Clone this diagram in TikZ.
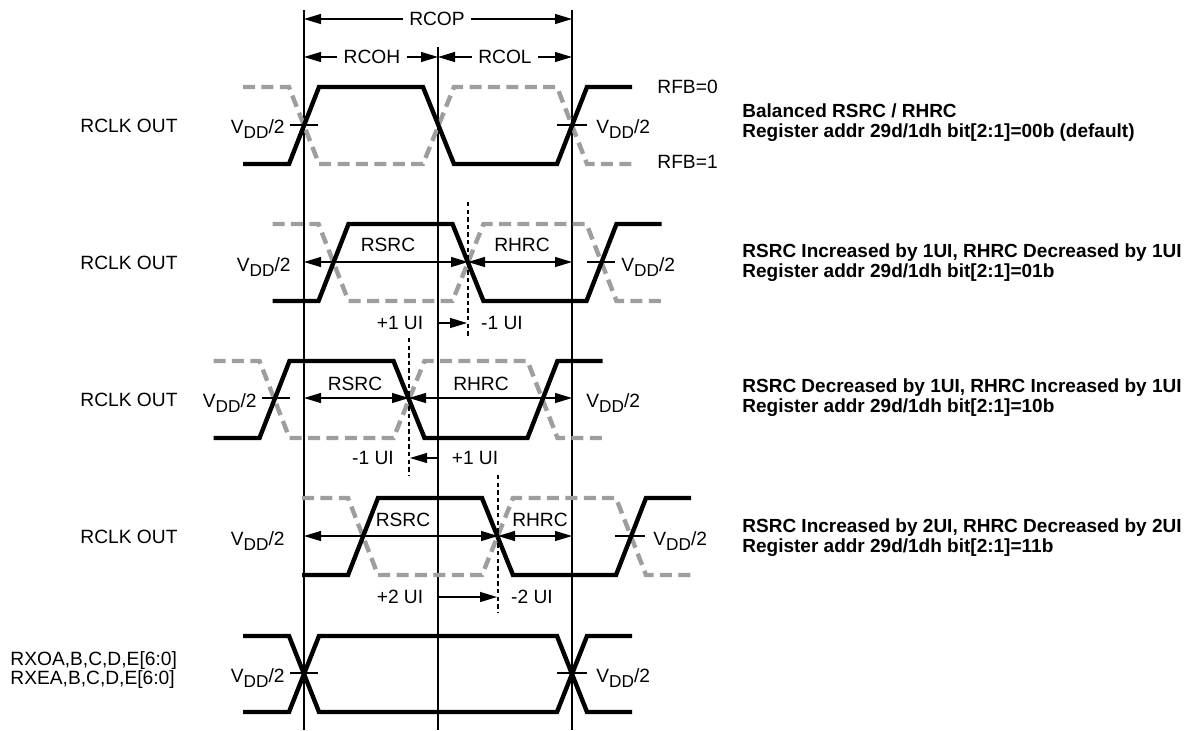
\documentclass[tikz,border=0pt]{standalone}
\usepackage{fontspec}
\setmainfont{Liberation Sans}
\usetikzlibrary{arrows.meta}

\definecolor{siggray}{RGB}{158,158,158}
\newcommand{\vddhalf}{V\raisebox{-0.5ex}{\fontsize{8.6}{8}\selectfont DD}/2}

\begin{document}
\begin{tikzpicture}[x=0.5pt, y=-0.5pt,
  >={Triangle[length=8.5pt,width=5pt]},
  sig/.style={line width=2.2pt, black},
  inv/.style={line width=2.2pt, siggray, dash pattern=on 6pt off 3.2pt},
  thinline/.style={line width=0.6pt},
  ruler/.style={line width=0.6pt, dash pattern=on 2.2pt off 1.6pt},
  lbl/.style={font=\fontsize{9.6}{11}\selectfont, inner sep=1pt},
  note/.style={font=\bfseries\fontsize{9.5}{10}\selectfont, align=left, anchor=west, inner sep=0pt}]
  \useasboundingbox (0,0) rectangle (1200,730);

  % Period lines
  \coordinate (p1top) at (304,10);  \coordinate (p1bot) at (304,730);
  \coordinate (p2top) at (438,47);  \coordinate (p2bot) at (438,730);
  \coordinate (p3top) at (572,10);  \coordinate (p3bot) at (572,730);
  \draw[thinline] (p1top) -- (p1bot);
  \draw[thinline] (p2top) -- (p2bot);
  \draw[thinline] (p3top) -- (p3bot);

  % Period / high / low dimensions
  \node[lbl, inner sep=3pt] (rcop) at (437,19) {RCOP};
  \draw[thinline,<-] (p1top |- rcop) -- (rcop.west);
  \draw[thinline,->] (rcop.east) -- (p3top |- rcop);
  \node[lbl, inner sep=3pt] (rcoh) at (372,57) {RCOH};
  \draw[thinline,<-] (p1top |- rcoh) -- (rcoh.west);
  \draw[thinline,->] (rcoh.east) -- (p2top |- rcoh);
  \node[lbl, inner sep=3pt] (rcol) at (505,57) {RCOL};
  \draw[thinline,<-] (p2top |- rcol) -- (rcol.west);
  \draw[thinline,->] (rcol.east) -- (p3top |- rcol);

  % RCLK OUT waveforms (shift in pixels, 1 UI = 29.5)
  \foreach \row/\s in {1/0, 2/29.5, 3/-29.5, 4/59} {
    \pgfmathsetmacro\yh{87+137*(\row-1)}
    \pgfmathsetmacro\yl{164+137*(\row-1)}
    \draw[inv] (243+\s,\yh) -- (289+\s,\yh) -- (319+\s,\yl) -- (423+\s,\yl)
      -- (454+\s,\yh) -- (557+\s,\yh) -- (587+\s,\yl) -- (632+\s,\yl);
    \draw[sig] (243+\s,\yl) -- (289+\s,\yl) -- (319+\s,\yh) -- (423+\s,\yh)
      -- (454+\s,\yl) -- (557+\s,\yl) -- (587+\s,\yh) -- (632+\s,\yh);
    \node[lbl] (clk\row) at (129,125.5+137*\row-137) {RCLK OUT};
  }

  % Data waveform
  \draw[sig] (243,636) -- (289,636) -- (319,712) -- (557,712) -- (587,636) -- (632,636);
  \draw[sig] (243,712) -- (289,712) -- (319,636) -- (557,636) -- (587,712) -- (632,712);
  \node[lbl, align=left, anchor=west, font=\fontsize{9.6}{8.2}\selectfont] (rxd) at (8,670)
    {RXOA,B,C,D,E[6:0]\\RXEA,B,C,D,E[6:0]};

  % Row 1: balanced
  \draw[thinline] (290,125) -- (318,125);
  \draw[thinline] (557,125) -- (587,125);
  \node[lbl, anchor=east] (v1l) at (287,129) {\vddhalf};
  \node[lbl, anchor=west] (v1r) at (594,129) {\vddhalf};
  \node[lbl, anchor=west] (rfb0) at (655,87) {RFB=0};
  \node[lbl, anchor=west] (rfb1) at (655,162) {RFB=1};
  \node[note] (n1) at (742,123) {Balanced RSRC / RHRC\\Register addr 29d/1dh bit[2:1]=00b (default)};

  % Row 2: +1 UI
  \coordinate (c2) at (468,262);
  \draw[ruler] (468,202) -- (468,338);
  \draw[thinline,<->] (p1top |- c2) -- (c2);
  \draw[thinline,<->] (c2) -- (p3top |- c2);
  \draw[thinline] (587,262) -- (615,262);
  \node[lbl] (rsrc2) at (388,245) {RSRC};
  \node[lbl] (rhrc2) at (522,245) {RHRC};
  \node[lbl, anchor=east] (v2l) at (293,267) {\vddhalf};
  \node[lbl, anchor=west] (v2r) at (619,267) {\vddhalf};
  \coordinate (u2) at (467,323);
  \draw[thinline,->] (p2top |- u2) -- (u2);
  \node[lbl] (u2l) at (400,323) {+1 UI};
  \node[lbl] (u2r) at (502,323) {-1 UI};
  \node[note] (n2) at (742,262.5) {RSRC Increased by 1UI, RHRC Decreased by 1UI\\Register addr 29d/1dh bit[2:1]=01b};

  % Row 3: -1 UI
  \coordinate (c3) at (409,398);
  \draw[ruler] (409,338) -- (409,475);
  \draw[thinline,<->] (p1top |- c3) -- (c3);
  \draw[thinline,<->] (c3) -- (p3top |- c3);
  \draw[thinline] (262,398) -- (290,398);
  \node[lbl] (rsrc3) at (355,384) {RSRC};
  \node[lbl] (rhrc3) at (481,384) {RHRC};
  \node[lbl, anchor=east] (v3l) at (259,403) {\vddhalf};
  \node[lbl, anchor=west] (v3r) at (584,403) {\vddhalf};
  \coordinate (u3) at (410,458);
  \draw[thinline,->] (p2top |- u3) -- (u3);
  \node[lbl] (u3l) at (373,458) {-1 UI};
  \node[lbl] (u3r) at (475,458) {+1 UI};
  \node[note] (n3) at (742,397.5) {RSRC Decreased by 1UI, RHRC Increased by 1UI\\Register addr 29d/1dh bit[2:1]=10b};

  % Row 4: +2 UI
  \coordinate (c4) at (498,536);
  \draw[ruler] (498,475) -- (498,612);
  \draw[thinline,<->] (p1top |- c4) -- (c4);
  \draw[thinline,<->] (c4) -- (p3top |- c4);
  \draw[thinline] (615,536) -- (645,536);
  \node[lbl] (rsrc4) at (403,520) {RSRC};
  \node[lbl] (rhrc4) at (540,520) {RHRC};
  \node[lbl, anchor=east] (v4l) at (287,541) {\vddhalf};
  \node[lbl, anchor=west] (v4r) at (651,541) {\vddhalf};
  \coordinate (u4) at (497,597);
  \draw[thinline,->] (p2top |- u4) -- (u4);
  \node[lbl] (u4l) at (400,597) {+2 UI};
  \node[lbl] (u4r) at (532,597) {-2 UI};
  \node[note] (n4) at (742,537.5) {RSRC Increased by 2UI, RHRC Decreased by 2UI\\Register addr 29d/1dh bit[2:1]=11b};

  % Row 5: data
  \draw[thinline] (290,673) -- (318,673);
  \draw[thinline] (557,673) -- (587,673);
  \node[lbl, anchor=east] (v5l) at (287,678) {\vddhalf};
  \node[lbl, anchor=west] (v5r) at (594,678) {\vddhalf};
\end{tikzpicture}
\end{document}
